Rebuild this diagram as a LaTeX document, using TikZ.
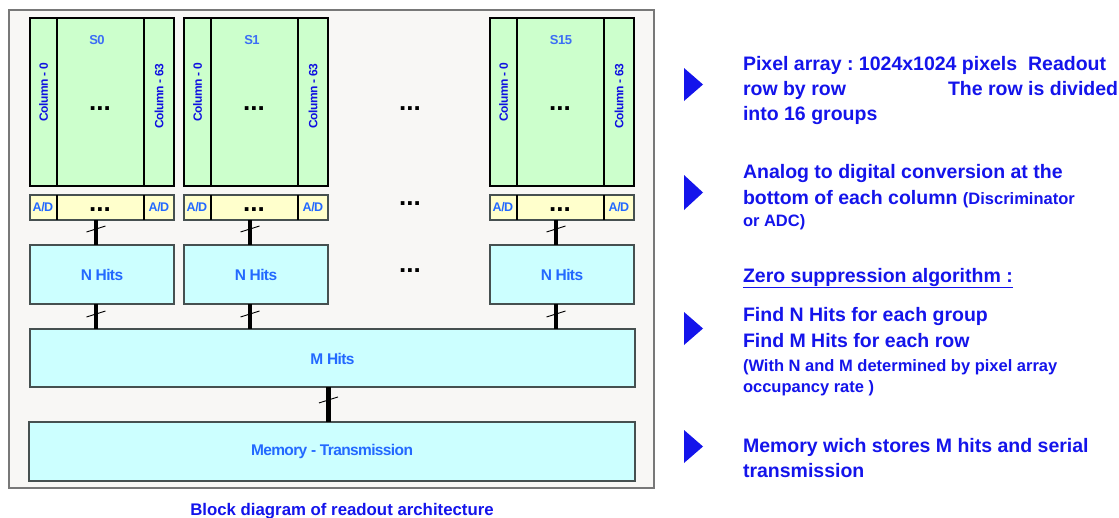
\documentclass[tikz,border=0pt]{standalone}
\usepackage{fontspec}
\setmainfont{Liberation Sans}
\newfontfamily\tightfont[LetterSpace=-4]{Liberation Sans}
\usetikzlibrary{calc}
\frenchspacing
\definecolor{framefill}{RGB}{248,247,245}
\definecolor{framedraw}{RGB}{120,120,120}
\definecolor{pixgreen}{RGB}{204,255,204}
\definecolor{adyellow}{RGB}{255,255,204}
\definecolor{hitcyan}{RGB}{204,255,255}
\definecolor{boxdraw}{RGB}{70,80,80}
\definecolor{lblblue}{RGB}{35,105,255}
\definecolor{slblue}{RGB}{60,110,245}
\definecolor{colblue}{RGB}{15,15,225}
\definecolor{txtblue}{RGB}{20,20,235}
\newcommand\fsz[1]{\fontsize{#1}{#1}\selectfont}
\tikzset{
  every node/.style={inner sep=0pt, outer sep=0pt},
  pixbox/.style={draw=black, line width=1.3pt, fill=pixgreen, anchor=north west, minimum width=144pt, minimum height=168pt},
  adbox/.style={draw=boxdraw, line width=1.2pt, fill=adyellow, anchor=north west, minimum width=144pt, minimum height=25pt},
  hitbox/.style={draw=boxdraw, line width=1.1pt, fill=hitcyan, anchor=north west},
  divider/.style={draw=black, line width=1.5pt},
  lbl/.style={text=lblblue, font=\tightfont\bfseries\fsz{15.5}},
  slbl/.style={text=slblue, font=\tightfont\bfseries\fsz{13}},
  adlbl/.style={text=lblblue, font=\tightfont\bfseries\fsz{12.5}},
  collbl/.style={text=colblue, font=\tightfont\bfseries\fsz{12}, rotate=90},
  dots/.style={text=black, font=\bfseries\fsz{26}, anchor=base},
  conn/.style={draw=black, line width=4.5pt},
  slashline/.style={draw=black, line width=0.9pt},
  rtxt/.style={text=txtblue, font=\bfseries\fsz{19.5}, anchor=base west},
  rsmall/.style={text=txtblue, font=\bfseries\fsz{16.5}, anchor=base west},
  tri/.style={fill=txtblue, draw=none}
}
\begin{document}
\begin{tikzpicture}[x=1pt, y=-1pt]
\useasboundingbox[fill=white] (0,0) rectangle (1119,517);
% outer frame
\node[draw=framedraw, line width=1.5pt, fill=framefill, anchor=north west, minimum width=645pt, minimum height=478pt] (frame) at (9,10) {};

% groups
\foreach \i/\x/\lab/\lx in {0/30/S0/97, 1/184/S1/252, 2/490/S15/561} {
  \node[pixbox] (g\i) at (\x,18) {};
  \draw[divider] ([xshift=27pt]g\i.north west) -- ([xshift=27pt]g\i.south west);
  \draw[divider] ([xshift=-30pt]g\i.north east) -- ([xshift=-30pt]g\i.south east);
  \node[slbl] (s\i) at (\lx,40) {\lab};
  \node[collbl] (c0\i) at ($(g\i.north west)+(13.5,74)$) {Column - 0};
  \node[collbl] (c63\i) at ($(g\i.north east)+(-15,78)$) {Column - 63};
  \node[dots] (gd\i) at ($(g\i.north west)+(70,92)$) {...};
  % A/D row
  \node[adbox] (ad\i) at (\x,195) {};
  \draw[divider] ([xshift=27pt]ad\i.north west) -- ([xshift=27pt]ad\i.south west);
  \draw[divider] ([xshift=-30pt]ad\i.north east) -- ([xshift=-30pt]ad\i.south east);
  \node[adlbl] (adl\i) at ($(ad\i.west)+(13,0)$) {A/D};
  \node[adlbl] (adr\i) at ($(ad\i.east)+(-15,0)$) {A/D};
  \node[dots] (add\i) at ($(ad\i.north west)+(70,16)$) {...};
  % N hits
  \node[hitbox, minimum width=144pt, minimum height=59pt] (nh\i) at (\x,245) {};
  \node[lbl] (nhl\i) at (nh\i.center) {N Hits};
}

% middle dots
\node[dots] (md1) at (410,110) {...};
\node[dots] (md2) at (410,205) {...};
\node[dots] (md3) at (410,272) {...};

% M hits and memory
\node[hitbox, minimum width=605pt, minimum height=58pt] (mh) at (30,329) {};
\node[lbl] (mhl) at ($(mh.center)+(0,1)$) {M Hits};
\node[hitbox, minimum width=606pt, minimum height=59pt] (mem) at (29,422) {};
\node[lbl] (meml) at (mem.center) {Memory - Transmission};

% connectors with bus slashes
\foreach \i in {0,1,2} {
  \draw[conn] ([xshift=-6pt]ad\i.south) -- coordinate[pos=0.36] (sa\i) ([xshift=-6pt]ad\i.south |- nh\i.north);
  \draw[slashline] ([shift={(-9.5,3)}]sa\i) -- ([shift={(9.5,-3)}]sa\i);
  \draw[conn] ([xshift=-6pt]nh\i.south) -- coordinate[pos=0.4] (sb\i) ([xshift=-6pt]nh\i.south |- mh.north);
  \draw[slashline] ([shift={(-9.5,3)}]sb\i) -- ([shift={(9.5,-3)}]sb\i);
}
\draw[conn] ([xshift=-4pt]mh.south) -- coordinate[pos=0.37] (sc) ([xshift=-4pt]mh.south |- mem.north);
\draw[slashline] ([shift={(-9.5,3)}]sc) -- ([shift={(9.5,-3)}]sc);

% caption
\node[text=txtblue, font=\bfseries\fsz{16.8}, anchor=base] (cap) at (342,515) {Block diagram of readout architecture};

% right-hand triangles
\fill[tri] (684,68) -- (703,84.5) -- (684,101) -- cycle;
\fill[tri] (684,175) -- (703,192.5) -- (684,210) -- cycle;
\fill[tri] (684,312) -- (703,328.5) -- (684,345) -- cycle;
\fill[tri] (684,430) -- (703,446.5) -- (684,463) -- cycle;

% right-hand text
\node[rtxt] (t1) at (743,70) {Pixel array : 1024x1024 pixels\ \ Readout};
\node[rtxt] (t2) at (743,95) {\makebox[205pt][l]{row by row}The row is divided};
\node[rtxt] (t3) at (743,120) {into 16 groups};
\node[rtxt] (t4) at (743,178) {Analog to digital conversion at the};
\node[rtxt] (t5) at (743,204) {bottom of each column {\fsz{16.5}(Discriminator}};
\node[rsmall] (t6) at (743,226) {or ADC)};
\node[rtxt] (t7) at (743,282) {\underline{Zero suppression algorithm :}};
\node[rtxt] (t8) at (743,321) {Find N Hits for each group};
\node[rtxt] (t9) at (743,347) {Find M Hits for each row};
\node[rsmall] (t10) at (743,371) {(With N and M determined by pixel array};
\node[rsmall] (t11) at (743,392) {occupancy rate )};
\node[rtxt] (t12) at (743,452) {Memory wich stores M hits and serial};
\node[rtxt] (t13) at (743,477) {transmission};
\end{tikzpicture}
\end{document}
